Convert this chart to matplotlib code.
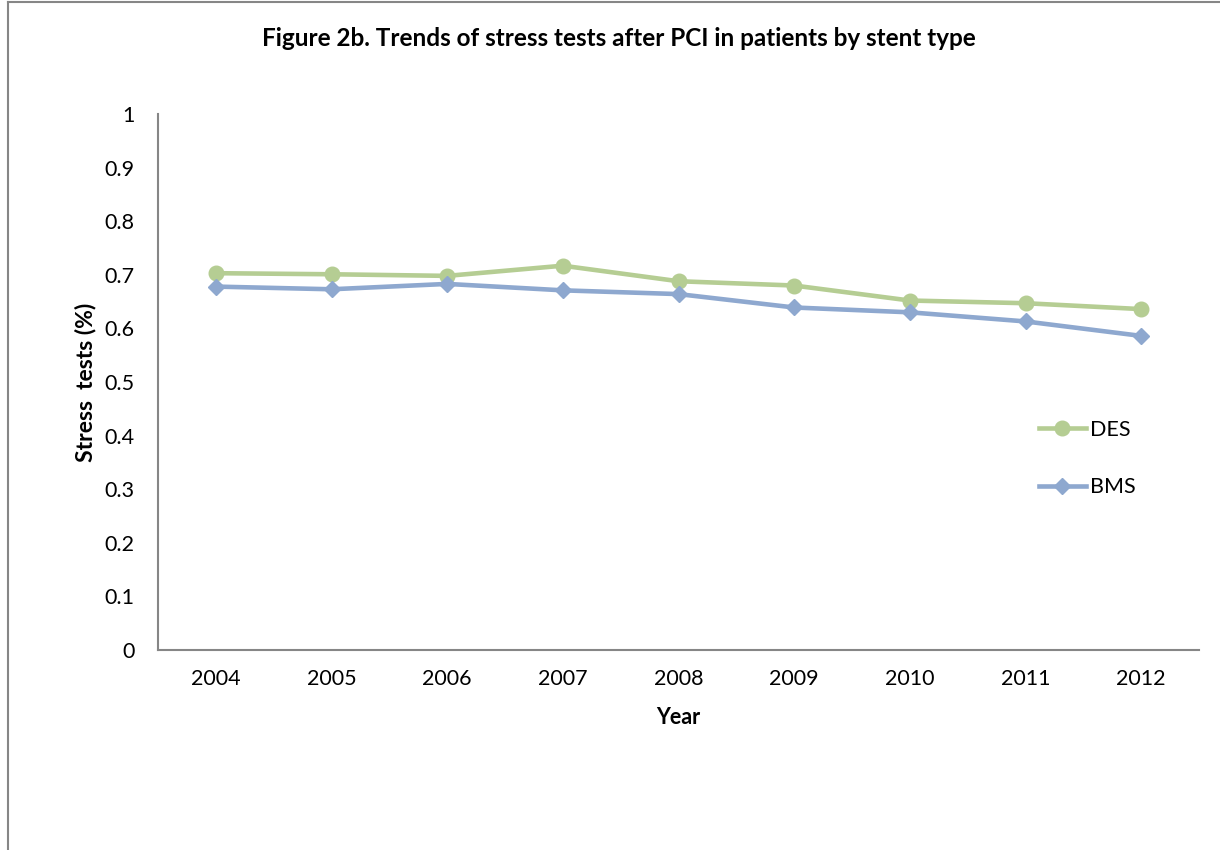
import matplotlib
matplotlib.use('Agg')
import matplotlib.pyplot as plt
from matplotlib.lines import Line2D

years = ['2004', '2005', '2006', '2007', '2008', '2009', '2010', '2011', '2012']
des = [0.703, 0.701, 0.698, 0.717, 0.688, 0.680, 0.652, 0.647, 0.636]
bms = [0.678, 0.673, 0.683, 0.671, 0.664, 0.639, 0.630, 0.613, 0.586]
yticks = [0, 0.1, 0.2, 0.3, 0.4, 0.5, 0.6, 0.7, 0.8, 0.9, 1]
yticklabels = ['0', '0.1', '0.2', '0.3', '0.4', '0.5', '0.6', '0.7', '0.8', '0.9', '1']

plt.rcParams['font.family'] = ['Lato', 'DejaVu Sans']

green = '#b5cd93'
blue = '#8ea8cf'
grey = '#868686'

fig = plt.figure(figsize=(12.2, 8.5), dpi=100)
ax = fig.add_axes([158 / 1220, 1 - 650 / 850, 1041 / 1220, 536 / 850])

# outer frame (only top and left edges show in the crop)
fig.add_artist(Line2D([8 / 1220, 8 / 1220], [0, 1 - 2 / 850], transform=fig.transFigure,
                      color=grey, lw=1.5))
fig.add_artist(Line2D([8 / 1220, 1], [1 - 2 / 850, 1 - 2 / 850], transform=fig.transFigure,
                      color=grey, lw=1.5))

x = list(range(len(years)))
ax.plot(x, des, color=green, lw=3.3, marker='o', ms=10.5, label='DES')
ax.plot(x, bms, color=blue, lw=3.3, marker='D', ms=8.5, label='BMS')

ax.set_xlim(-0.5, len(years) - 0.5)
ax.set_ylim(0, 1)
ax.set_xticks(x)
ax.set_xticklabels(years)
ax.set_yticks(yticks)
ax.set_yticklabels(yticklabels)
ax.tick_params(axis='both', length=0, labelsize=15.5)
ax.tick_params(axis='y', pad=17)
ax.tick_params(axis='x', pad=14)

for s in ['top', 'right']:
    ax.spines[s].set_visible(False)
for s in ['left', 'bottom']:
    ax.spines[s].set_color(grey)
    ax.spines[s].set_linewidth(1.5)

ax.set_xlabel('Year', fontsize=15.5, fontweight='bold', labelpad=13)
ax.set_ylabel('Stress  tests (%)', fontsize=16.5, fontweight='bold', labelpad=6)

fig.text(619 / 1220, 1 - 38 / 850, 'Figure 2b. Trends of stress tests after PCI in patients by stent type',
         ha='center', va='center', fontsize=17.5, fontweight='bold')

ax.legend(loc='center left', bbox_to_anchor=(1028 / 1220, 1 - 458.5 / 850),
          bbox_transform=fig.transFigure, frameon=False, fontsize=15.5,
          borderpad=0, handlelength=2.2, handletextpad=0.2, labelspacing=1.75)

fig.savefig('out.png', dpi=100)
